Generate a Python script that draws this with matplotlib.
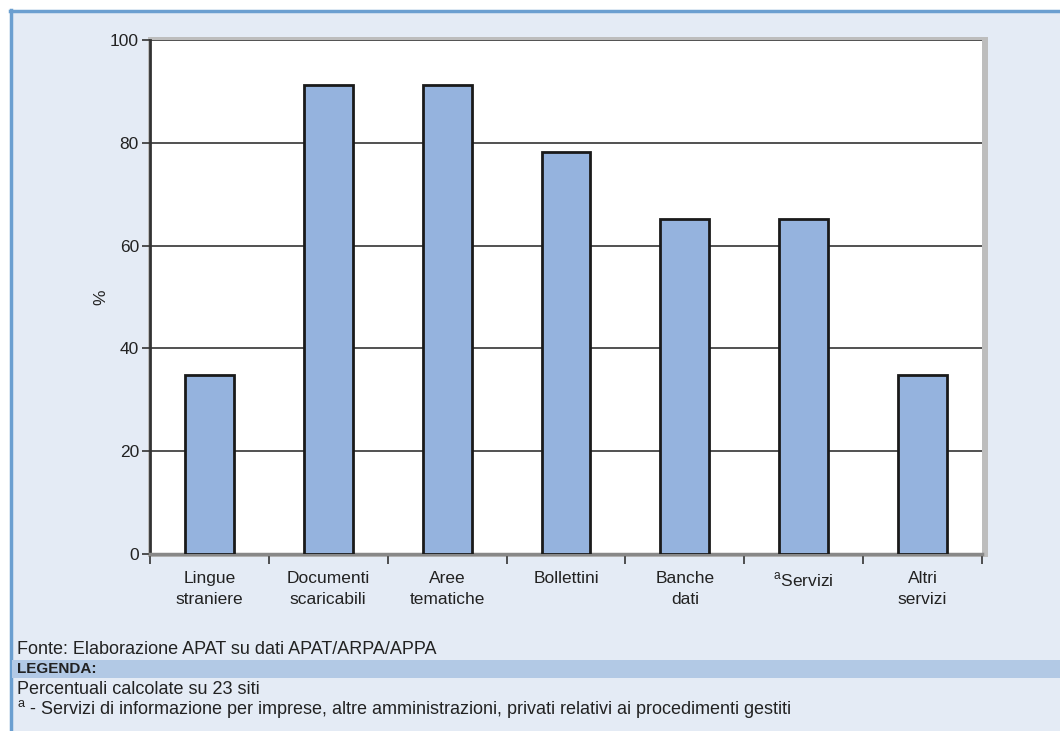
import matplotlib
matplotlib.use("Agg")
import matplotlib.pyplot as plt
from matplotlib.patches import Rectangle

categories = ["Lingue\nstraniere", "Documenti\nscaricabili", "Aree\ntematiche",
              "Bollettini", "Banche\ndati", "$^{\\mathregular{a}}$Servizi", "Altri\nservizi"]
values = [34.8, 91.3, 91.3, 78.3, 65.2, 65.2, 34.8]
yticks = [0, 20, 40, 60, 80, 100]

plt.rcParams["font.family"] = ["Liberation Sans", "DejaVu Sans"]
plt.rcParams["mathtext.fontset"] = "custom"
plt.rcParams["mathtext.rm"] = "Liberation Sans"

W, H = 1060, 731
fig = plt.figure(figsize=(W / 100, H / 100), dpi=100)
fig.patch.set_facecolor("white")

# outer panel
panel_bg = "#e4ebf5"
border = "#6b9fd0"
fig.add_artist(Rectangle((10 / W, 0), 1 - 10 / W, 1 - 10 / H, transform=fig.transFigure,
                         facecolor=panel_bg, edgecolor="none", zorder=0))
fig.add_artist(plt.Line2D([11 / W, 11 / W], [0, 1 - 10 / H], transform=fig.transFigure,
                          color=border, lw=2.5, zorder=1))
fig.add_artist(plt.Line2D([10 / W, 1], [1 - 11 / H, 1 - 11 / H], transform=fig.transFigure,
                          color=border, lw=2.5, zorder=1))

# legend band
fig.add_artist(Rectangle((12 / W, 1 - 678 / H), 1 - 12 / W, 18 / H, transform=fig.transFigure,
                         facecolor="#b2c9e5", edgecolor="none", zorder=1))

# plot area with grey shadow frame
left, right, top, bottom = 150, 982, 40, 554
fig.add_artist(Rectangle(((left - 2) / W, 1 - (bottom + 3) / H), (right - left + 8) / W, (bottom - top + 6) / H,
                         transform=fig.transFigure, facecolor="#bdbdbd", edgecolor="none", zorder=1))
ax = fig.add_axes([left / W, 1 - bottom / H, (right - left) / W, (bottom - top) / H], zorder=2)
ax.set_facecolor("white")

x = range(len(categories))
ax.bar(x, values, width=0.41, color="#95b3de", edgecolor="#1a1a1a", linewidth=2, zorder=3)
ax.set_xlim(-0.5, len(categories) - 0.5)
ax.set_ylim(0, 100)
ax.set_yticks(yticks)
ax.yaxis.grid(True, color="#333333", linewidth=1.2, zorder=1)
ax.set_axisbelow(True)

ax.set_xticks([i + 0.5 for i in range(-1, len(categories))], minor=False)
ax.set_xticklabels([])
ax.set_xticks(list(x), minor=True)
ax.set_xticklabels(categories, minor=True, fontsize=12.5, color="#222222", linespacing=1.5)
ax.tick_params(axis="x", which="minor", length=0, pad=12)
ax.tick_params(axis="x", which="major", length=7, width=1.2, color="#333333", direction="out")
ax.tick_params(axis="y", length=6, width=1.2, pad=2, color="#333333", labelsize=12.5, labelcolor="#222222")

for s in ["top", "right"]:
    ax.spines[s].set_visible(False)
ax.spines["left"].set_color("#333333")
ax.spines["left"].set_linewidth(2)
ax.spines["bottom"].set_color("#888888")
ax.spines["bottom"].set_linewidth(2.5)
ax.set_ylabel("%", fontsize=12.5, color="#222222", labelpad=1)

txt = dict(transform=fig.transFigure, fontsize=13, color="#222222", va="center", ha="left")
fig.text(17 / W, 1 - 649 / H, "Fonte: Elaborazione APAT su dati APAT/ARPA/APPA", **txt)
fig.text(17 / W, 1 - 669 / H, "LEGENDA:", fontweight="bold", **{**txt, "fontsize": 11})
fig.text(17 / W, 1 - 690 / H, "Percentuali calcolate su 23 siti", **txt)
fig.text(17 / W, 1 - 709 / H,
         "$^{\\mathregular{a}}$ - Servizi di informazione per imprese, altre amministrazioni, privati relativi ai procedimenti gestiti",
         **txt)

fig.savefig("out.png", dpi=100, facecolor=fig.get_facecolor())
